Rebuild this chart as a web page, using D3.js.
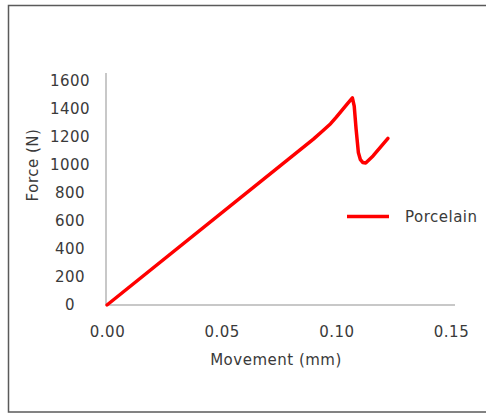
<!DOCTYPE html>
<html>
<head>
<meta charset="utf-8">
<script src="https://cdn.jsdelivr.net/npm/d3@7"></script>
<style>
  html, body { margin: 0; padding: 0; background: #fff; }
  svg { display: block; }
  text { font-family: "DejaVu Sans", "Noto Sans", sans-serif; fill: #3a3a3a; letter-spacing: 0.5px; }
</style>
</head>
<body>
<svg id="chart" width="486" height="414"></svg>
<script>
// ---- data ----
const movement = [0, 0.090, 0.094, 0.0975, 0.100, 0.1045, 0.107, 0.1078, 0.1086, 0.1096, 0.1105, 0.1115, 0.1128, 0.116, 0.1225];
const force    = [0, 1185, 1243, 1295, 1342, 1432, 1480, 1420, 1260, 1090, 1038, 1018, 1015, 1065, 1190];
const seriesName = "Porcelain";
const xTicks = [0, 0.05, 0.10, 0.15];
const yTicks = [0, 200, 400, 600, 800, 1000, 1200, 1400, 1600];
const xTitle = "Movement (mm)";
const yTitle = "Force (N)";

const svg = d3.select("#chart");

// outer frame
svg.append("rect")
  .attr("x", 8.5).attr("y", 5.5).attr("width", 520).attr("height", 406.5)
  .attr("fill", "none").attr("stroke", "#5a5a5a").attr("stroke-width", 1.5);

const x = d3.scaleLinear().domain([0, 0.15]).range([107, 451]);
const y = d3.scaleLinear().domain([0, 1600]).range([305, 81]);

// axis lines
svg.append("line").attr("x1", 106).attr("x2", 106).attr("y1", 73).attr("y2", 305)
  .attr("stroke", "#c8c8c8").attr("stroke-width", 2);
svg.append("line").attr("x1", 106).attr("x2", 455).attr("y1", 305).attr("y2", 305)
  .attr("stroke", "#c8c8c8").attr("stroke-width", 2);

const fs = "15px";
// y axis labels
const yAxis = d3.axisLeft(y).tickValues(yTicks).tickSize(0).tickFormat(d3.format("d"));
const gy = svg.append("g").attr("transform", "translate(70,0)").call(yAxis);
gy.select(".domain").remove();
gy.selectAll("text").attr("x", 0).attr("text-anchor", "middle")
  .style("font-size", fs).style("font-family", "DejaVu Sans").attr("fill", "#3a3a3a");

// x axis labels
const xAxis = d3.axisBottom(x).tickValues(xTicks).tickSize(0).tickFormat(d3.format(".2f"));
const gx = svg.append("g").attr("transform", "translate(0,321)").call(xAxis);
gx.select(".domain").remove();
gx.selectAll("text").attr("y", 5).style("font-size", fs).style("font-family", "DejaVu Sans").attr("fill", "#3a3a3a");

// titles
svg.append("text").attr("x", 276).attr("y", 365).attr("text-anchor", "middle")
  .style("font-size", fs).text(xTitle);
svg.append("text").attr("transform", "translate(38,165) rotate(-90)")
  .attr("text-anchor", "middle").style("font-size", fs).text(yTitle);

// series
const pts = movement.map((m, i) => [m, force[i]]);
const line = d3.line().x(d => x(d[0])).y(d => y(d[1])).curve(d3.curveLinear);
svg.append("path").datum(pts).attr("d", line)
  .attr("fill", "none").attr("stroke", "#ff0000").attr("stroke-width", 3.5)
  .attr("stroke-linejoin", "round").attr("stroke-linecap", "round");

// legend
svg.append("line").attr("x1", 347).attr("x2", 389).attr("y1", 216.5).attr("y2", 216.5)
  .attr("stroke", "#ff0000").attr("stroke-width", 3.5);
svg.append("text").attr("x", 405).attr("y", 222).style("font-size", fs).text(seriesName);
</script>
</body>
</html>
